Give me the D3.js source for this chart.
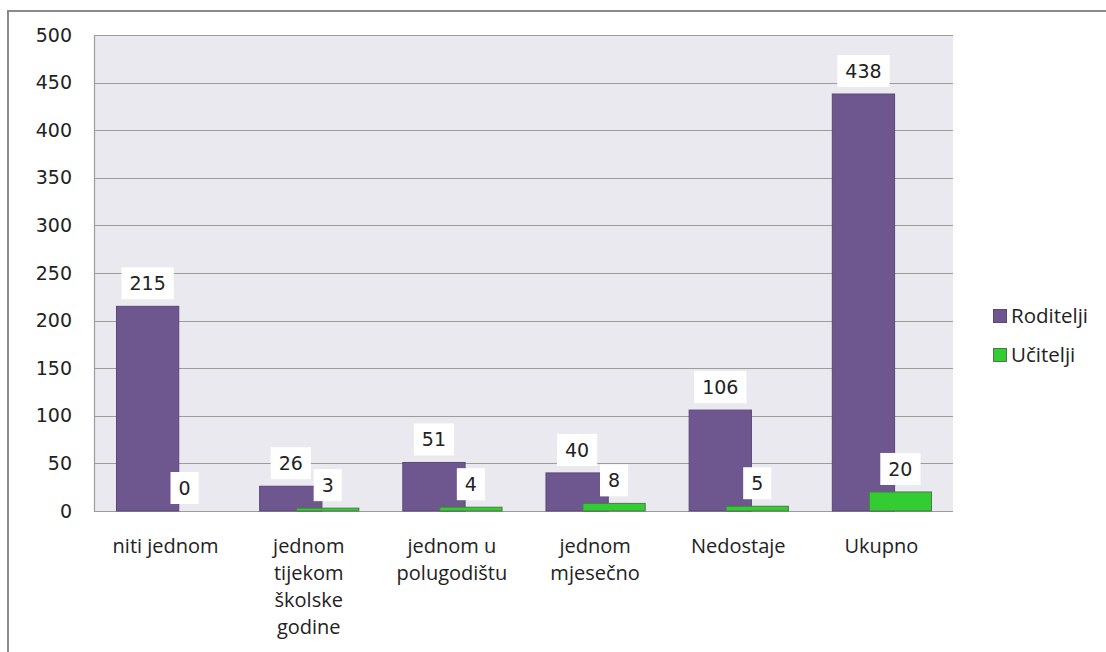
<!DOCTYPE html>
<html>
<head>
<meta charset="utf-8">
<script src="https://cdn.jsdelivr.net/npm/d3@7"></script>
<style>
  body { margin: 0; background: #fff; }
  svg { display: block; }
</style>
</head>
<body>
<svg id="chart"></svg>
<script>
// data
var categories = ["niti jednom", "jednom tijekom školske godine", "jednom u polugodištu",
                  "jednom mjesečno", "Nedostaje", "Ukupno"];
// how the category labels wrap
var categoryLines = [["niti jednom"], ["jednom", "tijekom", "školske", "godine"],
                     ["jednom u", "polugodištu"], ["jednom", "mjesečno"], ["Nedostaje"], ["Ukupno"]];
var roditelji = [215, 26, 51, 40, 106, 438];
var ucitelji = [0, 3, 4, 8, 5, 20];
var seriesNames = ["Roditelji", "Učitelji"];
var yTicks = [0, 50, 100, 150, 200, 250, 300, 350, 400, 450, 500];

var colors = {purple: "#6e578e", purpleEdge: "#5b4778", green: "#33cc33", greenEdge: "#4a7a4a"};

var screen = {width: 1106, height: 652};
var plot = {left: 94, right: 953, top: 35, bottom: 511};

var svg = d3.select("#chart")
    .attr("width", screen.width)
    .attr("height", screen.height);

// outer frame, runs off the right and bottom edge
svg.append("rect")
    .attr("x", 8).attr("y", 11)
    .attr("width", 1200).attr("height", 700)
    .attr("fill", "none")
    .attr("stroke", "#8a8a8a")
    .attr("stroke-width", 2);

var xScale = d3.scaleBand()
    .domain(categories)
    .range([plot.left, plot.right])
    .padding(0);

var yScale = d3.scaleLinear()
    .domain([0, 500])
    .range([plot.bottom, plot.top]);

var bw = xScale.bandwidth();
var barW = bw * 0.435;
var offP = bw * 0.157;
var offG = bw * 0.415;

// plot background
svg.append("rect")
    .attr("x", plot.left).attr("y", plot.top)
    .attr("width", plot.right - plot.left)
    .attr("height", plot.bottom - plot.top)
    .attr("fill", "#ebe9f0");

// gridlines
svg.append("g")
    .selectAll("line")
    .data(yTicks)
    .enter()
    .append("line")
    .attr("x1", plot.left).attr("x2", plot.right)
    .attr("y1", function(d) { return Math.round(yScale(d)) + 0.5; })
    .attr("y2", function(d) { return Math.round(yScale(d)) + 0.5; })
    .attr("stroke", "#9c9c9c")
    .attr("stroke-width", 1.2);

// left edge of plot
svg.append("line")
    .attr("x1", plot.left + 0.5).attr("x2", plot.left + 0.5)
    .attr("y1", plot.top).attr("y2", plot.bottom)
    .attr("stroke", "#9c9c9c").attr("stroke-width", 1.2);

// y axis labels
var yAxis = d3.axisLeft(yScale).tickValues(yTicks).tickSize(0).tickPadding(22);
var yg = svg.append("g")
    .attr("transform", "translate(" + plot.left + ",0)")
    .call(yAxis);
yg.select(".domain").remove();
yg.selectAll("text")
    .attr("font-family", "DejaVu Sans")
    .attr("font-size", 19)
    .attr("fill", "#222");

// bars
var bars = svg.append("g");
bars.selectAll("rect.rod")
    .data(roditelji)
    .enter()
    .append("rect")
    .attr("class", "rod")
    .attr("x", function(d, i) { return xScale(categories[i]) + offP; })
    .attr("y", function(d) { return yScale(d); })
    .attr("width", barW)
    .attr("height", function(d) { return yScale(0) - yScale(d); })
    .attr("fill", colors.purple)
    .attr("stroke", colors.purpleEdge)
    .attr("stroke-width", 1);

bars.selectAll("rect.uci")
    .data(ucitelji)
    .enter()
    .append("rect")
    .attr("class", "uci")
    .attr("x", function(d, i) { return xScale(categories[i]) + offG; })
    .attr("y", function(d) { return yScale(d); })
    .attr("width", barW)
    .attr("height", function(d) { return yScale(0) - yScale(d); })
    .attr("fill", colors.green)
    .attr("stroke", colors.greenEdge)
    .attr("stroke-width", 1);

// value labels in white boxes
var drawLabels = function(values, off)
{
    values.forEach(function(v, i)
    {
        var cx = xScale(categories[i]) + off + barW / 2;
        var bottom = yScale(v) - 7;
        var g = svg.append("g");
        var box = g.append("rect").attr("fill", "#fff");
        var t = g.append("text")
            .attr("x", cx)
            .attr("y", bottom - 9)
            .attr("text-anchor", "middle")
            .attr("font-family", "DejaVu Sans")
            .attr("font-size", 19)
            .attr("fill", "#222")
            .text(v);
        var w = t.node().getBBox().width + 16;
        box.attr("x", cx - w / 2)
            .attr("y", bottom - 32)
            .attr("width", w)
            .attr("height", 32);
    });
}
drawLabels(roditelji, offP);
drawLabels(ucitelji, offG);

// category labels
categoryLines.forEach(function(lines, i)
{
    var cx = xScale(categories[i]) + bw / 2;
    var t = svg.append("text")
        .attr("text-anchor", "middle")
        .attr("font-family", "Open Sans")
        .attr("font-size", 20)
        .attr("fill", "#222");
    lines.forEach(function(line, j)
    {
        t.append("tspan")
            .attr("x", cx)
            .attr("y", 553 + j * 27)
            .text(line);
    });
});

// legend
var legend = svg.append("g");
[colors.purple, colors.green].forEach(function(c, i)
{
    var y = 309 + i * 39;
    legend.append("rect")
        .attr("x", 993.5).attr("y", y + 0.5)
        .attr("width", 13).attr("height", 13)
        .attr("fill", c)
        .attr("stroke", i == 0 ? colors.purpleEdge : colors.greenEdge);
    legend.append("text")
        .attr("x", 1011)
        .attr("y", y + 14)
        .attr("font-family", "Open Sans")
        .attr("font-size", 20.5)
        .attr("fill", "#222")
        .text(seriesNames[i]);
});
</script>
</body>
</html>
